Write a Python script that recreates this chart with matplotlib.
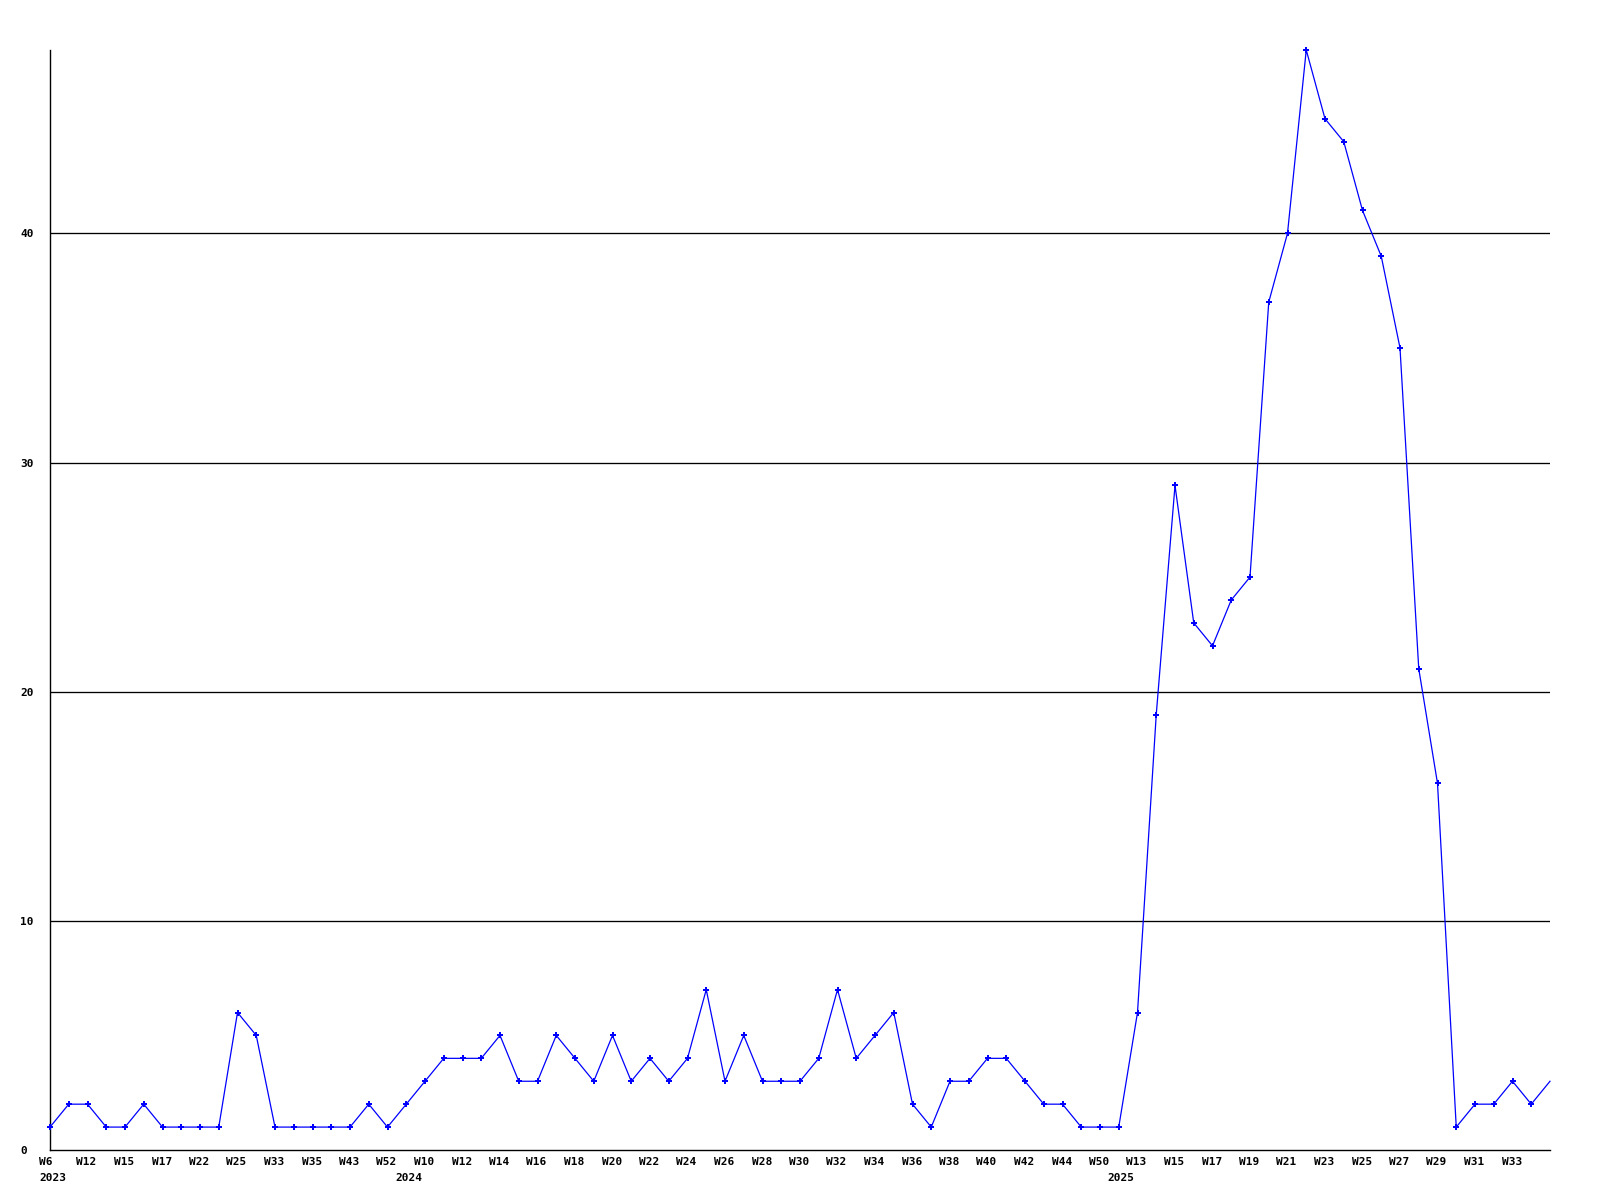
#!/usr/bin/env python3
"""Weekly count line chart (2023-2025)."""

import matplotlib

matplotlib.use("Agg")
import matplotlib.pyplot as plt
import matplotlib.transforms as mtransforms
import numpy as np

# weekly values, one per plotted week
VALUES = [
    1, 2, 2, 1, 1, 2, 1, 1, 1, 1,
    6, 5, 1, 1, 1, 1, 1, 2, 1, 2,
    3, 4, 4, 4, 5, 3, 3, 5, 4, 3,
    5, 3, 4, 3, 4, 7, 3, 5, 3, 3,
    3, 4, 7, 4, 5, 6, 2, 1, 3, 3,
    4, 4, 3, 2, 2, 1, 1, 1, 6, 19,
    29, 23, 22, 24, 25, 37, 40, 48, 45, 44,
    41, 39, 35, 21, 16, 1, 2, 2, 3, 2,
    3,
]
# labels drawn under every second week
WEEK_LABELS = [
    "W6", "W12", "W15", "W17", "W22", "W25", "W33", "W35", "W43", "W52",
    "W10", "W12", "W14", "W16", "W18", "W20", "W22", "W24", "W26", "W28",
    "W30", "W32", "W34", "W36", "W38", "W40", "W42", "W44", "W50", "W13",
    "W15", "W17", "W19", "W21", "W23", "W25", "W27", "W29", "W31", "W33",
]
YEAR_POS = [0, 19, 57]
YEAR_LABELS = ["2023", "2024", "2025"]
Y_TICKS = [0, 10, 20, 30, 40]

FONT = {"family": "DejaVu Sans Mono", "weight": "bold", "size": 8}


def main() -> int:
    x = np.arange(len(VALUES))
    fig = plt.figure(figsize=(16, 12), dpi=100)
    ax = fig.add_axes([50 / 1600, 50 / 1200, 1500 / 1600, 1100 / 1200])
    ax.set_xlim(0, len(VALUES) - 1)
    ax.set_ylim(0, 48)

    for y in Y_TICKS[1:]:
        ax.axhline(y, color="black", linewidth=0.95, zorder=1)

    ax.plot(
        x,
        VALUES,
        color="#0000ff",
        linewidth=0.9,
        marker="P",
        markersize=4.5,
        markeredgewidth=0,
        markevery=list(range(len(VALUES) - 1)),
        clip_on=False,
        zorder=3,
    )

    for side in ("top", "right"):
        ax.spines[side].set_visible(False)
    for side in ("left", "bottom"):
        ax.spines[side].set_linewidth(1.0)
        ax.spines[side].set_color("black")

    ax.set_yticks(Y_TICKS)
    ax.set_yticklabels([str(v) for v in Y_TICKS], fontdict=FONT)
    ax.tick_params(axis="y", length=0, pad=0)
    for lbl in ax.get_yticklabels():
        lbl.set_horizontalalignment("left")
        lbl.set_transform(
            lbl.get_transform()
            + mtransforms.ScaledTranslation(-30 / 100, 0, fig.dpi_scale_trans)
        )

    ticks = x[::2][: len(WEEK_LABELS)]
    ax.set_xticks(ticks)
    ax.set_xticklabels(WEEK_LABELS, fontdict=FONT)
    ax.tick_params(axis="x", length=0, pad=5)
    shift = mtransforms.ScaledTranslation(-11 / 100, 0, fig.dpi_scale_trans)
    for lbl in ax.get_xticklabels():
        lbl.set_horizontalalignment("left")
        lbl.set_transform(lbl.get_transform() + shift)

    trans = mtransforms.blended_transform_factory(ax.transData, ax.transAxes)
    for pos, year in zip(YEAR_POS, YEAR_LABELS):
        ax.text(
            pos,
            -0.0205,
            year,
            transform=trans + shift,
            ha="left",
            va="top",
            **FONT,
        )

    fig.savefig("out.png", dpi=100, facecolor="white")
    plt.close(fig)
    return 0


if __name__ == "__main__":
    raise SystemExit(main())
